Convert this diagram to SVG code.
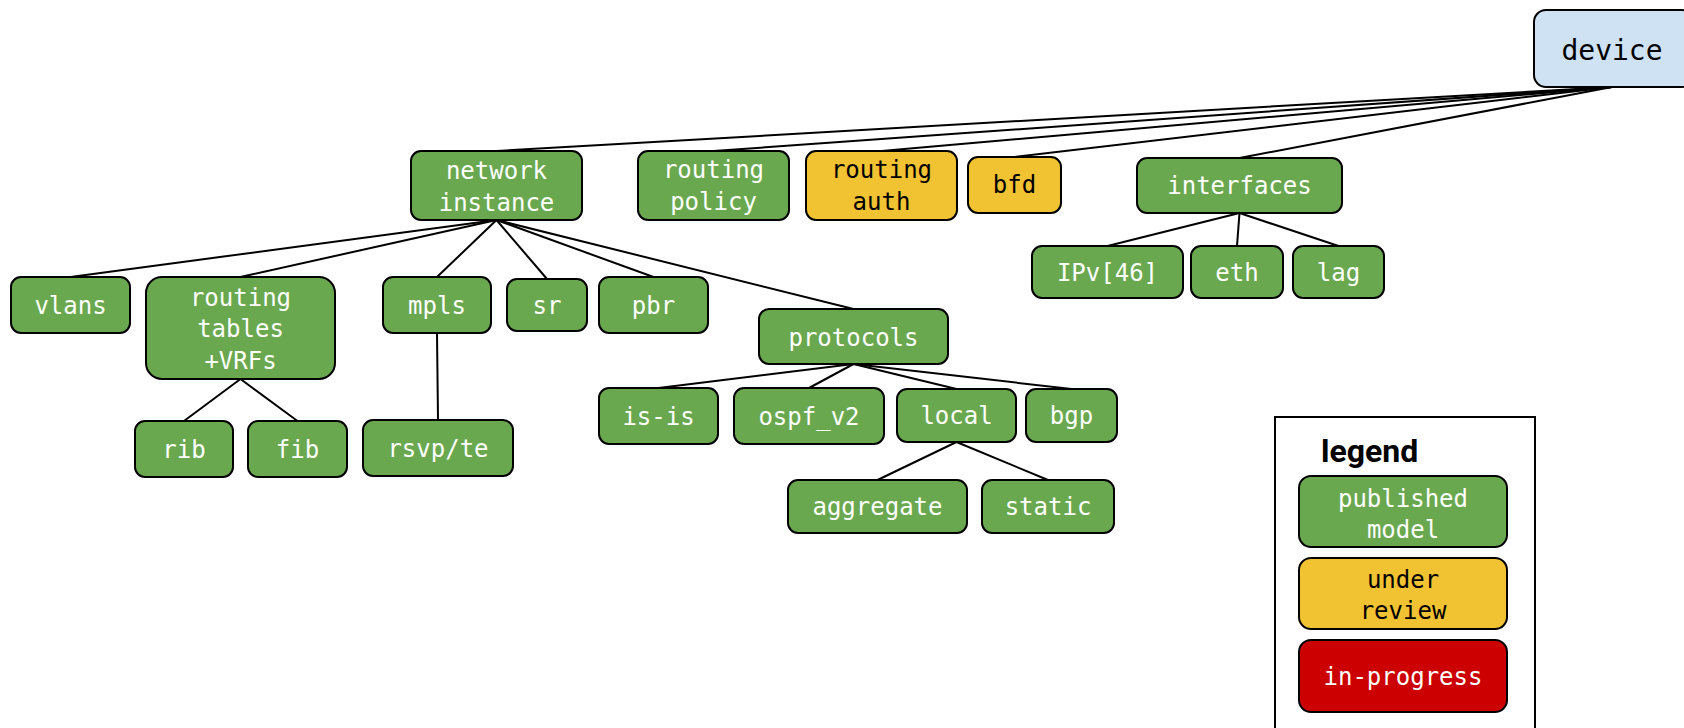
<svg xmlns="http://www.w3.org/2000/svg" width="1684" height="728" viewBox="0 0 1684 728">
  <style>
    .box { stroke: #000; stroke-width: 2; }
    .pub { fill: #6aa84f; }
    .rev { fill: #f1c232; }
    .wip { fill: #cc0000; }
    .root { fill: #cfe2f3; }
    .lbl { font-family: "DejaVu Sans Mono", "Liberation Mono", monospace; font-size: 24px; text-anchor: middle; }
    .w { fill: #fff; }
    .k { fill: #000; }
    .edge { stroke: #000; stroke-width: 2; fill: none; }
  </style>
  <rect width="1684" height="728" fill="#fff"/>

  <!-- tree edges: parent bottom-centre to child top-centre -->
  <g id="connectors" class="edge">
    <line x1="1612" y1="87" x2="496.5" y2="151"/>
    <line x1="1612" y1="87" x2="713.5" y2="151"/>
    <line x1="1612" y1="87" x2="881.5" y2="151"/>
    <line x1="1612" y1="87" x2="1014.5" y2="157"/>
    <line x1="1612" y1="87" x2="1239.5" y2="158"/>
    <line x1="496.5" y1="220" x2="70.5" y2="277"/>
    <line x1="496.5" y1="220" x2="240.5" y2="277"/>
    <line x1="496.5" y1="220" x2="437" y2="277"/>
    <line x1="496.5" y1="220" x2="547" y2="279"/>
    <line x1="496.5" y1="220" x2="653.5" y2="277"/>
    <line x1="496.5" y1="220" x2="853.5" y2="309"/>
    <line x1="240.5" y1="379" x2="184" y2="421"/>
    <line x1="240.5" y1="379" x2="297.5" y2="421"/>
    <line x1="437" y1="333" x2="438" y2="420"/>
    <line x1="1239.5" y1="213" x2="1107.5" y2="246"/>
    <line x1="1239.5" y1="213" x2="1237" y2="246"/>
    <line x1="1239.5" y1="213" x2="1338.5" y2="246"/>
    <line x1="853.5" y1="364" x2="658.5" y2="388"/>
    <line x1="853.5" y1="364" x2="809" y2="388"/>
    <line x1="853.5" y1="364" x2="956.5" y2="389"/>
    <line x1="853.5" y1="364" x2="1071.5" y2="389"/>
    <line x1="956.5" y1="442" x2="877.5" y2="480"/>
    <line x1="956.5" y1="442" x2="1048" y2="480"/>
  </g>

  <g id="device">
    <rect class="box root" x="1534" y="10" width="160" height="77" rx="12"/>
    <text class="k" x="1612" y="60" font-family="DejaVu Sans Mono, Liberation Mono, monospace" font-size="28" text-anchor="middle">device</text>
  </g>

  <g id="network-instance">
    <rect class="box pub" x="411" y="151" width="171" height="69" rx="10"/>
    <text class="lbl w" x="496.5" y="179">network</text>
    <text class="lbl w" x="496.5" y="211">instance</text>
  </g>
  <g id="routing-policy">
    <rect class="box pub" x="638" y="151" width="151" height="69" rx="10"/>
    <text class="lbl w" x="713.5" y="178">routing</text>
    <text class="lbl w" x="713.5" y="210">policy</text>
  </g>
  <g id="routing-auth">
    <rect class="box rev" x="806" y="151" width="151" height="69" rx="10"/>
    <text class="lbl k" x="881.5" y="178">routing</text>
    <text class="lbl k" x="881.5" y="210">auth</text>
  </g>
  <g id="bfd">
    <rect class="box rev" x="968" y="157" width="93" height="56" rx="10"/>
    <text class="lbl k" x="1014.5" y="193">bfd</text>
  </g>
  <g id="interfaces">
    <rect class="box pub" x="1137" y="158" width="205" height="55" rx="10"/>
    <text class="lbl w" x="1239.5" y="194">interfaces</text>
  </g>
  <g id="ipv46">
    <rect class="box pub" x="1032" y="246" width="151" height="52" rx="10"/>
    <text class="lbl w" x="1107.5" y="281">IPv[46]</text>
  </g>
  <g id="eth">
    <rect class="box pub" x="1191" y="246" width="92" height="52" rx="10"/>
    <text class="lbl w" x="1237" y="281">eth</text>
  </g>
  <g id="lag">
    <rect class="box pub" x="1293" y="246" width="91" height="52" rx="10"/>
    <text class="lbl w" x="1338.5" y="281">lag</text>
  </g>

  <g id="vlans">
    <rect class="box pub" x="11" y="277" width="119" height="56" rx="10"/>
    <text class="lbl w" x="70.5" y="314">vlans</text>
  </g>
  <g id="routing-tables">
    <rect class="box pub" x="146" y="277" width="189" height="102" rx="16"/>
    <text class="lbl w" x="240.5" y="306">routing</text>
    <text class="lbl w" x="240.5" y="337">tables</text>
    <text class="lbl w" x="240.5" y="369">+VRFs</text>
  </g>
  <g id="mpls">
    <rect class="box pub" x="383" y="277" width="108" height="56" rx="10"/>
    <text class="lbl w" x="437" y="314">mpls</text>
  </g>
  <g id="sr">
    <rect class="box pub" x="507" y="279" width="80" height="52" rx="10"/>
    <text class="lbl w" x="547" y="314">sr</text>
  </g>
  <g id="pbr">
    <rect class="box pub" x="599" y="277" width="109" height="56" rx="10"/>
    <text class="lbl w" x="653.5" y="314">pbr</text>
  </g>
  <g id="protocols">
    <rect class="box pub" x="759" y="309" width="189" height="55" rx="10"/>
    <text class="lbl w" x="853.5" y="346">protocols</text>
  </g>

  <g id="rib">
    <rect class="box pub" x="135" y="421" width="98" height="56" rx="10"/>
    <text class="lbl w" x="184" y="458">rib</text>
  </g>
  <g id="fib">
    <rect class="box pub" x="248" y="421" width="99" height="56" rx="10"/>
    <text class="lbl w" x="297.5" y="458">fib</text>
  </g>
  <g id="rsvp-te">
    <rect class="box pub" x="363" y="420" width="150" height="56" rx="10"/>
    <text class="lbl w" x="438" y="457">rsvp/te</text>
  </g>

  <g id="is-is">
    <rect class="box pub" x="599" y="388" width="119" height="56" rx="10"/>
    <text class="lbl w" x="658.5" y="425">is-is</text>
  </g>
  <g id="ospf-v2">
    <rect class="box pub" x="734" y="388" width="150" height="56" rx="10"/>
    <text class="lbl w" x="809" y="425">ospf_v2</text>
  </g>
  <g id="local">
    <rect class="box pub" x="897" y="389" width="119" height="53" rx="10"/>
    <text class="lbl w" x="956.5" y="424">local</text>
  </g>
  <g id="bgp">
    <rect class="box pub" x="1026" y="389" width="91" height="53" rx="10"/>
    <text class="lbl w" x="1071.5" y="424">bgp</text>
  </g>
  <g id="aggregate">
    <rect class="box pub" x="788" y="480" width="179" height="53" rx="10"/>
    <text class="lbl w" x="877.5" y="515">aggregate</text>
  </g>
  <g id="static">
    <rect class="box pub" x="982" y="480" width="132" height="53" rx="10"/>
    <text class="lbl w" x="1048" y="515">static</text>
  </g>

  <!-- colour key -->
  <g id="legend">
    <rect x="1275" y="417" width="260" height="320" fill="#fff" stroke="#000" stroke-width="2"/>
    <text x="1321" y="462" font-family="Roboto, Liberation Sans, sans-serif" font-weight="bold" font-size="32" fill="#000">legend</text>
    <rect class="box pub" x="1299" y="476" width="208" height="71" rx="12"/>
    <text class="lbl w" x="1403" y="507">published</text>
    <text class="lbl w" x="1403" y="538">model</text>
    <rect class="box rev" x="1299" y="558" width="208" height="71" rx="12"/>
    <text class="lbl k" x="1403" y="588">under</text>
    <text class="lbl k" x="1403" y="619">review</text>
    <rect class="box wip" x="1299" y="640" width="208" height="72" rx="12"/>
    <text class="lbl w" x="1403" y="685">in-progress</text>
  </g>
</svg>
